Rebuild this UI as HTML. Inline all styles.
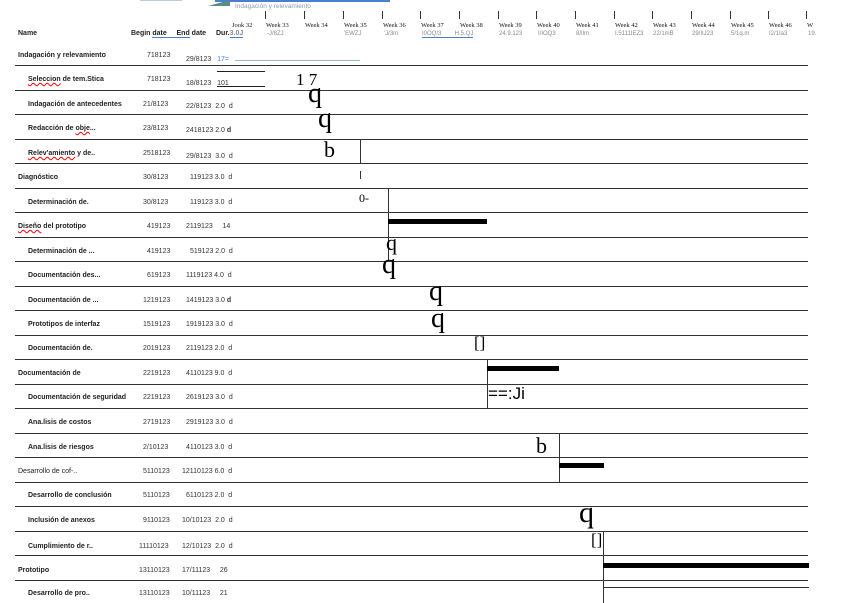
<!DOCTYPE html>
<html><head><meta charset="utf-8"><style>
body{margin:0;width:846px;height:603px;background:#fff;position:relative;overflow:hidden;font-family:"Liberation Sans",sans-serif;}
.a{position:absolute;white-space:nowrap;}
.n{font-size:7px;font-weight:bold;color:#222;margin-top:2px;}
.d{font-size:7px;color:#333;margin-top:2px;}
.h{position:absolute;height:1px;background:#333;left:15px;width:793px;}
.v{position:absolute;width:1px;background:#333;}
.b{position:absolute;background:#000;height:5px;}
.w{font-size:6.5px;font-family:"Liberation Serif",serif;color:#111;}
.ws{font-size:6px;color:#888;}
.t{position:absolute;width:1px;height:8px;background:#333;top:11px;}
.g{position:absolute;font-family:"Liberation Serif",serif;color:#000;}
</style></head><body>
<div class="a" style="left:140px;top:0;width:42px;height:1px;background:#bcd"></div>
<div class="a" style="left:215px;top:0;width:175px;height:2px;background:#4a7fd0"></div>
<div class="a" style="left:208px;top:0;width:0;height:0;border-top:6px solid transparent;border-right:22px solid #5a8a8a;border-bottom:0"></div>
<div class="a ws" style="left:235px;top:3px;font-size:6.5px;color:#8a9bb0">Indagación y relevamiento</div>

<div class="a n" style="left:18px;top:30px;margin-top:0">Name</div>
<div class="a n" style="left:131px;top:30px;margin-top:0">Begin <span style="border-bottom:1px solid #4a7fd0">date &nbsp;&nbsp;&nbsp;&nbsp;End</span> date</div>
<div class="a n" style="left:216px;top:30px;margin-top:0">Dur.<span style="color:#888;border-bottom:1px solid #4a7fd0">3.0J</span></div>

<div class="t" style="left:265px"></div><div class="t" style="left:304px"></div><div class="t" style="left:343px"></div><div class="t" style="left:382px"></div><div class="t" style="left:420px"></div><div class="t" style="left:459px"></div><div class="t" style="left:498px"></div><div class="t" style="left:536px"></div><div class="t" style="left:575px"></div><div class="t" style="left:614px"></div><div class="t" style="left:652px"></div><div class="t" style="left:691px"></div><div class="t" style="left:730px"></div><div class="t" style="left:768px"></div><div class="t" style="left:806px"></div>
<div class="a w" style="left:232px;top:22px">Jook 32</div>
<div class="a w" style="left:266px;top:22px">Week 33</div>
<div class="a w" style="left:305px;top:22px">Week 34</div>
<div class="a w" style="left:344px;top:22px">Week 35</div>
<div class="a w" style="left:383px;top:22px">Week 36</div>
<div class="a w" style="left:421px;top:22px">Week 37</div>
<div class="a w" style="left:460px;top:22px">Week 38</div>
<div class="a w" style="left:499px;top:22px">Week 39</div>
<div class="a w" style="left:537px;top:22px">Week 40</div>
<div class="a w" style="left:576px;top:22px">Week 41</div>
<div class="a w" style="left:615px;top:22px">Week 42</div>
<div class="a w" style="left:653px;top:22px">Week 43</div>
<div class="a w" style="left:692px;top:22px">Week 44</div>
<div class="a w" style="left:731px;top:22px">Week 45</div>
<div class="a w" style="left:769px;top:22px">Week 46</div>
<div class="a w" style="left:807px;top:22px">W</div>
<div class="a ws" style="left:267px;top:31px">-J/8ZJ</div>
<div class="a ws" style="left:344px;top:31px">'EWZJ</div>
<div class="a ws" style="left:384px;top:31px">'J/3m</div>
<div class="a ws" style="left:422px;top:31px;border-bottom:1px solid #4a7fd0">I0OQ/3 &nbsp;&nbsp;&nbsp;&nbsp;&nbsp;&nbsp; H.5.QJ</div>
<div class="a ws" style="left:499px;top:31px">24.9.123</div>
<div class="a ws" style="left:538px;top:31px">I/IOQ3</div>
<div class="a ws" style="left:576px;top:31px">8/Ilm</div>
<div class="a ws" style="left:615px;top:31px">I.5111IEZ3</div>
<div class="a ws" style="left:653px;top:31px">22/1mB</div>
<div class="a ws" style="left:692px;top:31px">29/IIJ23</div>
<div class="a ws" style="left:731px;top:31px">5/1q.m</div>
<div class="a ws" style="left:769px;top:31px">I2/1Ia3</div>
<div class="a ws" style="left:808px;top:31px">19.</div>

<div class="h" style="top:65px"></div><div class="h" style="top:90px"></div><div class="h" style="top:114px"></div><div class="h" style="top:139px"></div><div class="h" style="top:163px"></div><div class="h" style="top:188px"></div><div class="h" style="top:212px"></div><div class="h" style="top:237px"></div><div class="h" style="top:261px"></div><div class="h" style="top:286px"></div><div class="h" style="top:310px"></div><div class="h" style="top:335px"></div><div class="h" style="top:359px"></div><div class="h" style="top:384px"></div><div class="h" style="top:408px"></div><div class="h" style="top:433px"></div><div class="h" style="top:457px"></div><div class="h" style="top:482px"></div><div class="h" style="top:506px"></div><div class="h" style="top:531px"></div><div class="h" style="top:555px"></div><div class="h" style="top:580px"></div>

<div class="a n" style="left:18px;top:50px">Indagación y relevamiento</div><div class="a d" style="left:147px;top:50px">718123</div><div class="a d" style="left:186px;top:54px">29/8123 &nbsp; <span style="color:#4a7fd0">17=</span></div>
<div class="a" style="left:235px;top:60px;width:125px;height:1px;background:#9bc"></div>
<div class="a n" style="left:28px;top:74px"><span style="text-decoration:underline wavy red">Seleccion</span> de tem.Stica</div><div class="a d" style="left:147px;top:74px">718123</div><div class="a d" style="left:186px;top:78px">18/8123 &nbsp; 101</div>
<div class="a" style="left:217px;top:71px;width:48px;height:1px;background:#222"></div><div class="a" style="left:217px;top:86px;width:48px;height:1px;background:#222"></div>
<div class="a n" style="left:28px;top:99px">Indagación de antecedentes</div><div class="a d" style="left:143px;top:99px">21/8123</div><div class="a d" style="left:186px;top:101px">22/8123 &nbsp;2.0 &nbsp;d</div>
<div class="a n" style="left:28px;top:123px">Redacción de <span style="text-decoration:underline wavy red">obje</span>...</div><div class="a d" style="left:143px;top:123px">23/8123</div><div class="a d" style="left:186px;top:125px">2418123 2.0 <b>d</b></div>
<div class="a n" style="left:28px;top:148px"><span style="text-decoration:underline wavy red">Relev'amiento</span> y de..</div><div class="a d" style="left:143px;top:148px">2518123</div><div class="a d" style="left:186px;top:151px">29/8123 &nbsp;3.0 &nbsp;d</div>
<div class="a n" style="left:18px;top:172px">Diagnóstico</div><div class="a d" style="left:143px;top:172px">30/8123</div><div class="a d" style="left:190px;top:172px">119123 3.0 &nbsp;d</div>
<div class="a n" style="left:28px;top:197px">Determinación de.</div><div class="a d" style="left:143px;top:197px">30/8123</div><div class="a d" style="left:190px;top:197px">119123 3.0 &nbsp;d</div>
<div class="a n" style="left:18px;top:221px"><span style="text-decoration:underline wavy red">Diseño</span> del prototipo</div><div class="a d" style="left:147px;top:221px">419123</div><div class="a d" style="left:186px;top:221px">2119123 &nbsp; &nbsp; 14</div>
<div class="a n" style="left:28px;top:246px">Determinación de ...</div><div class="a d" style="left:147px;top:246px">419123</div><div class="a d" style="left:190px;top:246px">519123 2.0 &nbsp;d</div>
<div class="a n" style="left:28px;top:270px">Documentación des...</div><div class="a d" style="left:147px;top:270px">619123</div><div class="a d" style="left:186px;top:270px">1119123 4.0 &nbsp;d</div>
<div class="a n" style="left:28px;top:295px">Documentación de ...</div><div class="a d" style="left:143px;top:295px">1219123</div><div class="a d" style="left:186px;top:295px">1419123 3.0 <b>d</b></div>
<div class="a n" style="left:28px;top:319px">Prototipos de interfaz</div><div class="a d" style="left:143px;top:319px">1519123</div><div class="a d" style="left:186px;top:319px">1919123 3.0 &nbsp;d</div>
<div class="a n" style="left:28px;top:343px">Documentación de.</div><div class="a d" style="left:143px;top:343px">2019123</div><div class="a d" style="left:186px;top:343px">2119123 2.0 &nbsp;d</div>
<div class="a n" style="left:18px;top:368px">Documentación de</div><div class="a d" style="left:143px;top:368px">2219123</div><div class="a d" style="left:186px;top:368px">4110123 9.0 &nbsp;d</div>
<div class="a n" style="left:28px;top:392px">Documentación de seguridad</div><div class="a d" style="left:143px;top:392px">2219123</div><div class="a d" style="left:186px;top:392px">2619123 3.0 &nbsp;d</div>
<div class="a n" style="left:28px;top:417px">Ana.lisis de costos</div><div class="a d" style="left:143px;top:417px">2719123</div><div class="a d" style="left:186px;top:417px">2919123 3.0 &nbsp;d</div>
<div class="a n" style="left:28px;top:442px">Ana.lisis de riesgos</div><div class="a d" style="left:143px;top:442px">2/10123</div><div class="a d" style="left:186px;top:442px">4110123 3.0 &nbsp;d</div>
<div class="a n" style="left:18px;top:466px;font-weight:normal">Desarrollo de cof-..</div><div class="a d" style="left:143px;top:466px">5110123</div><div class="a d" style="left:182px;top:466px">12110123 6.0 &nbsp;d</div>
<div class="a n" style="left:28px;top:490px">Desarrollo de conclusión</div><div class="a d" style="left:143px;top:490px">5110123</div><div class="a d" style="left:186px;top:490px">6110123 2.0 &nbsp;d</div>
<div class="a n" style="left:28px;top:515px">Inclusión de anexos</div><div class="a d" style="left:143px;top:515px">9110123</div><div class="a d" style="left:182px;top:515px">10/10123 &nbsp;2.0 &nbsp;d</div>
<div class="a n" style="left:28px;top:541px">Cumplimiento de r..</div><div class="a d" style="left:139px;top:541px">11110123</div><div class="a d" style="left:182px;top:541px">12/10123 &nbsp;2.0 &nbsp;d</div>
<div class="a n" style="left:18px;top:565px">Prototipo</div><div class="a d" style="left:139px;top:565px">13110123</div><div class="a d" style="left:182px;top:565px">17/11123 &nbsp; &nbsp; 26</div>
<div class="a n" style="left:28px;top:588px">Desarrollo de pro..</div><div class="a d" style="left:139px;top:588px">13110123</div><div class="a d" style="left:182px;top:588px">10/11123 &nbsp; &nbsp; 21</div>

<div class="g" style="left:296px;top:70px;font-size:17px">1 7</div>
<div class="g" style="left:308px;top:78px;font-size:28px">q</div>
<div class="g" style="left:318px;top:103px;font-size:28px">q</div>
<div class="g" style="left:324px;top:137px;font-size:22px">b</div>
<div class="v" style="left:360px;top:139px;height:24px"></div>
<div class="v" style="left:360px;top:171px;height:8px"></div>
<div class="g" style="left:359px;top:191px;font-size:12px">0-</div>
<div class="v" style="left:388px;top:188px;height:73px"></div>
<div class="b" style="left:388px;top:219px;width:99px"></div>
<div class="g" style="left:386px;top:230px;font-size:22px">q</div>
<div class="g" style="left:382px;top:249px;font-size:28px">q</div>
<div class="g" style="left:429px;top:276px;font-size:28px">q</div>
<div class="g" style="left:431px;top:303px;font-size:28px">q</div>
<div class="g" style="left:474px;top:333px;font-size:17px">[]</div>
<div class="v" style="left:487px;top:359px;height:49px"></div>
<div class="b" style="left:487px;top:366px;width:72px"></div>
<div class="g" style="left:488px;top:384px;font-size:17px;font-family:'Liberation Sans',sans-serif">==:Ji</div>
<div class="g" style="left:536px;top:433px;font-size:22px">b</div>
<div class="v" style="left:559px;top:433px;height:49px"></div>
<div class="b" style="left:559px;top:463px;width:45px"></div>
<div class="g" style="left:579px;top:496px;font-size:30px">q</div>
<div class="g" style="left:591px;top:530px;font-size:17px">[]</div>
<div class="v" style="left:603px;top:531px;height:72px"></div>
<div class="b" style="left:603px;top:563px;width:206px"></div>
<div class="a" style="left:603px;top:587px;width:206px;height:1px;background:#333"></div>
</body></html>
